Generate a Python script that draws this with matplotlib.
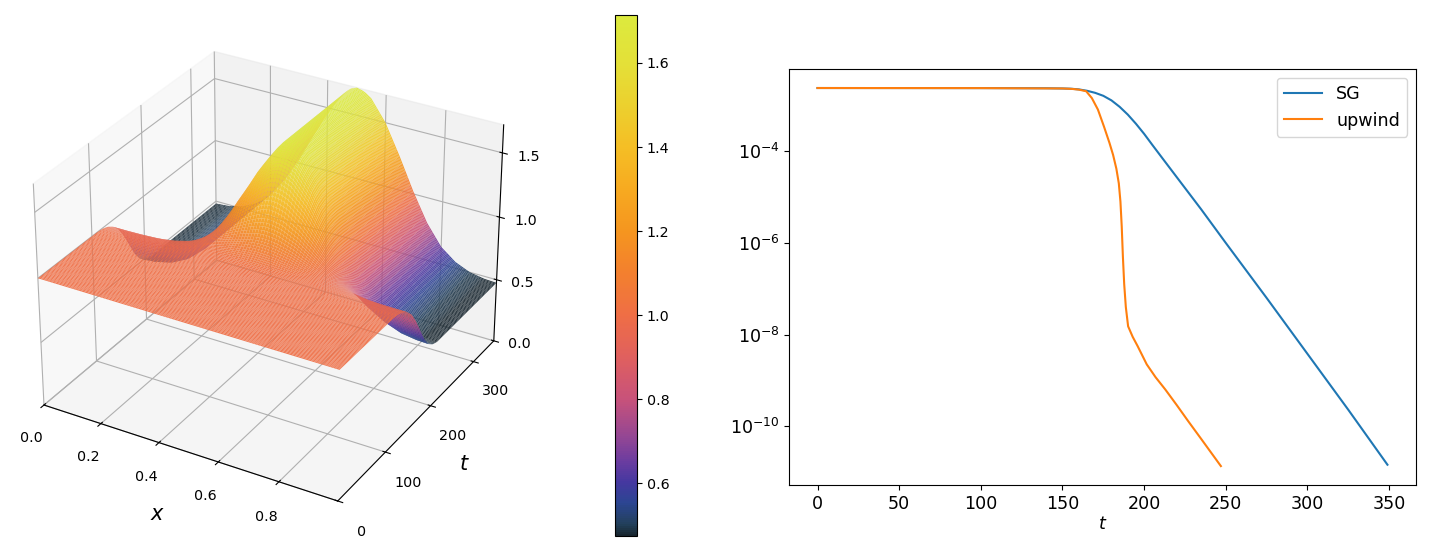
import numpy as np
import matplotlib
matplotlib.use("Agg")
import matplotlib.pyplot as plt
from matplotlib.colors import LinearSegmentedColormap, Normalize
from matplotlib.cm import ScalarMappable
from matplotlib.ticker import NullLocator

x_nodes = [0.0, 0.05, 0.1, 0.15, 0.2, 0.25, 0.3, 0.35, 0.4, 0.425, 0.45, 0.475, 0.5,
           0.525, 0.55, 0.6, 0.65, 0.7, 0.75, 0.8, 0.85, 0.9, 0.95, 1.0]
u_steady = [0.48, 0.49, 0.52, 0.58, 0.68, 0.83, 1.02, 1.24, 1.45, 1.54, 1.62, 1.69, 1.714,
            1.70, 1.66, 1.50, 1.27, 1.02, 0.80, 0.64, 0.55, 0.50, 0.48, 0.474]
u_start = 1.0

# how far the solution has moved from u_start to the steady profile
t_nodes = [0, 110, 120, 130, 140, 150, 160, 170, 180, 190, 200, 210, 350]
blend = [0, 0, 0.01, 0.04, 0.1, 0.2, 0.36, 0.56, 0.76, 0.9, 0.97, 1.0, 1.0]

# residual history, log10 values
t_sg = [0, 100, 140, 150, 155, 160, 165, 170, 175, 180, 185, 190, 195, 200, 205,
        212, 222, 235, 250, 275, 300, 325, 349]
log_sg = [-2.62, -2.622, -2.625, -2.63, -2.635, -2.65, -2.68, -2.725, -2.79, -2.89, -3.03,
          -3.2, -3.4, -3.62, -3.86, -4.19, -4.66, -5.27, -6.0, -7.2, -8.42, -9.64, -10.84]
t_up = [0, 100, 150, 156, 160, 164.5, 168, 171.7, 175.5, 178.8, 181, 183, 184.5, 185.5,
        186.3, 187, 187.8, 188.8, 190.2, 193, 196, 201.6, 207, 213, 220, 227, 235, 247]
log_up = [-2.62, -2.622, -2.63, -2.64, -2.655, -2.69, -2.84, -3.09, -3.47, -3.82, -4.08,
          -4.38, -4.7, -5.1, -5.65, -6.3, -6.9, -7.4, -7.82, -8.05, -8.25, -8.65, -8.93,
          -9.2, -9.54, -9.89, -10.28, -10.87]

# colours sampled from the colour bar
cb_vals = [0.474, 0.50, 0.55, 0.60, 0.65, 0.70, 0.80, 0.90, 1.00, 1.10, 1.20, 1.30,
           1.40, 1.50, 1.60, 1.714]
cb_cols = ['#18262f', '#22405a', '#2c4592', '#4538a0', '#6a3ca0', '#8f4596', '#c8527a',
           '#e0605e', '#ef6e45', '#f3802e', '#f5951f', '#f7aa20', '#f5be25', '#ecd02e',
           '#e4e038', '#dcea3e']
pos = [(v - cb_vals[0]) / (cb_vals[-1] - cb_vals[0]) for v in cb_vals]
cmap = LinearSegmentedColormap.from_list('thermalish', list(zip(pos, cb_cols)))

# build the surface on a fine grid
x = np.linspace(0, 0.99, 100)
t = np.linspace(0, 349, 175)
s = np.interp(x, x_nodes, u_steady)
w = np.interp(t, t_nodes, blend)
X, T = np.meshgrid(x, t)
U = u_start + w[:, None] * (s[None, :] - u_start)
norm = Normalize(U.min(), U.max())

fig = plt.figure(figsize=(14.33, 5.56), dpi=100)

ax3 = fig.add_axes([0.0031, 0.0396, 0.365, 0.9406], projection='3d')
surf = ax3.plot_surface(X, T, U, cmap=cmap, norm=norm, rstride=1, cstride=1,
                        linewidth=0, antialiased=True, alpha=0.92)
try:
    ax3.set_xlim(0, x.max(), view_margin=0)
    ax3.set_ylim(0, t.max(), view_margin=0)
    ax3.set_zlim(0, U.max(), view_margin=0)
except TypeError:
    ax3.set_xlim(0, x.max())
    ax3.set_ylim(0, t.max())
    ax3.set_zlim(0, U.max())
ax3.set_xticks([0.0, 0.2, 0.4, 0.6, 0.8])
ax3.set_yticks([0, 100, 200, 300])
ax3.set_zticks([0.0, 0.5, 1.0, 1.5])
ax3.set_xlabel('$x$', fontsize=15, labelpad=11)
ax3.set_ylabel('$t$', fontsize=15, labelpad=9)
ax3.tick_params(labelsize=10.3)
ax3.xaxis.set_tick_params(pad=6)
ax3.yaxis.set_tick_params(pad=7)

cax = fig.add_axes([0.4292, 0.036, 0.0154, 0.937])
cb = fig.colorbar(ScalarMappable(norm=norm, cmap=cmap), cax=cax)
cb.ax.tick_params(labelsize=10.3)

ax2 = fig.add_axes([0.5506, 0.1277, 0.4375, 0.748])
ax2.semilogy(t_sg, 10.0 ** np.array(log_sg), label='SG')
ax2.semilogy(t_up, 10.0 ** np.array(log_up), label='upwind')
ax2.set_yticks([1e-4, 1e-6, 1e-8, 1e-10])
ax2.yaxis.set_minor_locator(NullLocator())
ax2.set_xlabel('$t$', fontsize=12.6, labelpad=2)
ax2.tick_params(labelsize=12.6)
ax2.legend(loc='upper right', fontsize=12.6, handlelength=2.2)

fig.savefig('out.png', dpi=100)
